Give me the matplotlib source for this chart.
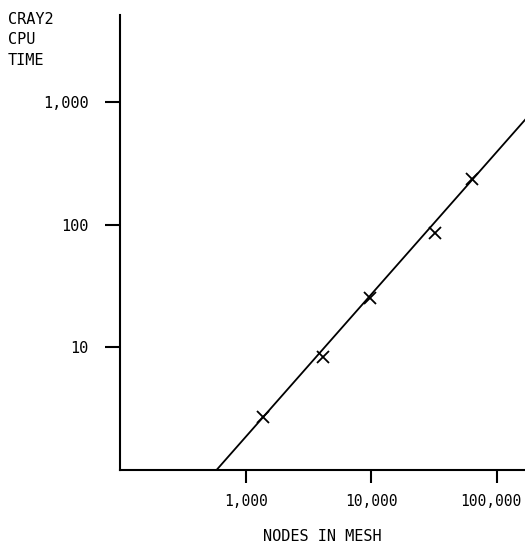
import matplotlib
matplotlib.use("Agg")
import matplotlib.pyplot as plt
import matplotlib.transforms as mtransforms
from matplotlib.ticker import FixedLocator, FixedFormatter, NullLocator

# measured runs
nodes = [1380, 4150, 9800, 32200, 63200]
cpu_time = [2.7, 8.3, 25.0, 85.0, 235.0]

# fitted trend line end points
fit_nodes = [587, 168000]
fit_time = [1.0, 713.0]

xticks = [1000, 10000, 100000]
xtick_labels = ["1,000", "10,000", "100,000"]
yticks = [10, 100, 1000]
ytick_labels = ["10", "100", "1,000"]

plt.rcParams["font.family"] = ["DejaVu Sans Mono"]

fig = plt.figure(figsize=(5.25, 5.49), dpi=100)
ax = fig.add_axes([120 / 525, 79 / 549, 405 / 525, 455 / 549])

ax.plot(fit_nodes, fit_time, color="black", lw=1.3)
ax.plot(nodes, cpu_time, linestyle="none", marker="x", color="black",
        markersize=8, markeredgewidth=1.3)

ax.set_xscale("log")
ax.set_yscale("log")
ax.set_xlim(100, 168000)
ax.set_ylim(1, 5100)

ax.xaxis.set_major_locator(FixedLocator(xticks))
ax.xaxis.set_major_formatter(FixedFormatter(xtick_labels))
ax.yaxis.set_major_locator(FixedLocator(yticks))
ax.yaxis.set_major_formatter(FixedFormatter(ytick_labels))
ax.xaxis.set_minor_locator(NullLocator())
ax.yaxis.set_minor_locator(NullLocator())

ax.spines["top"].set_visible(False)
ax.spines["right"].set_visible(False)
for side in ("left", "bottom"):
    ax.spines[side].set_linewidth(1.5)

ax.tick_params(axis="x", direction="out", length=9.5, width=1.5, pad=8, labelsize=10.5)
ax.tick_params(axis="y", direction="out", length=10.8, width=1.5, pad=12, labelsize=11)

# keep the last x label inside the figure
last = ax.get_xticklabels()[-1]
last.set_transform(last.get_transform() +
                   mtransforms.ScaledTranslation(-6 / 100, 0, fig.dpi_scale_trans))

ax.set_xlabel("NODES IN MESH", fontsize=11, labelpad=14)
fig.text(8 / 525, 1 - 12 / 549, "CRAY2\nCPU\nTIME", fontsize=11,
         ha="left", va="top", linespacing=1.45)

fig.savefig("out.png", dpi=100)
